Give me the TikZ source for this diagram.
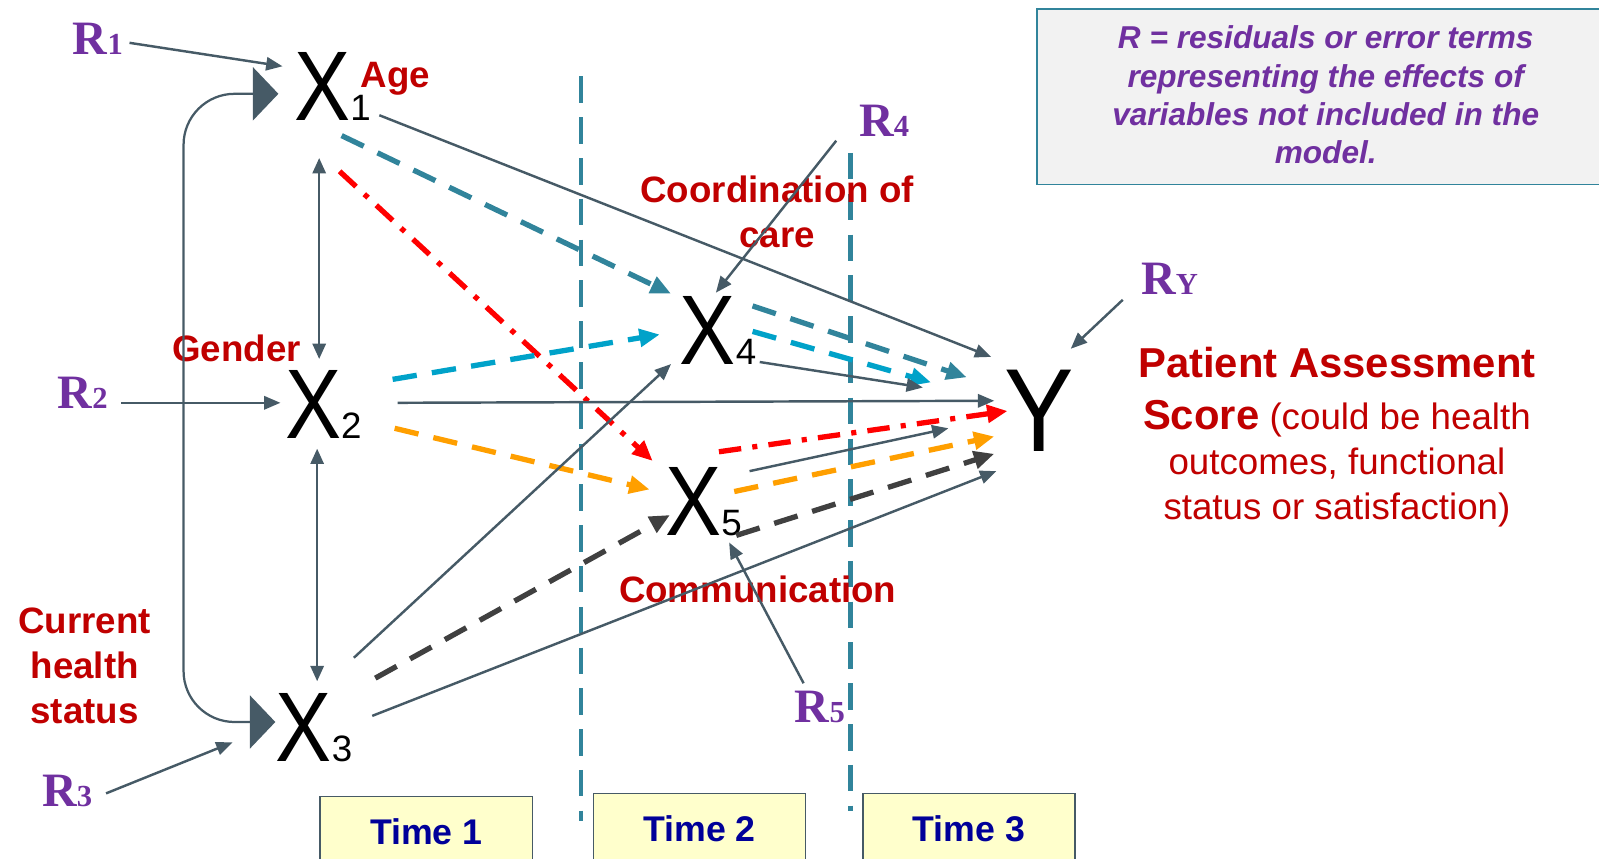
\documentclass[tikz,border=0pt]{standalone}
\usepackage{graphicx}
\usepackage{fontspec}
\setmainfont{Liberation Sans}
\newfontfamily\resfont{Liberation Serif}
\usetikzlibrary{arrows.meta}
\definecolor{linegray}{HTML}{465A66}
\definecolor{tealdash}{HTML}{31849B}
\definecolor{cyandash}{HTML}{00A2C9}
\definecolor{orangedash}{HTML}{FF9F00}
\definecolor{darkdash}{HTML}{404040}
\definecolor{respurple}{HTML}{7030A0}
\definecolor{lblred}{HTML}{C00000}
\definecolor{timeblue}{HTML}{000099}
\definecolor{timefill}{HTML}{FFFFCC}
\definecolor{notefill}{HTML}{F2F2F2}
\newcommand{\varsub}[1]{{\fontsize{36}{36}\selectfont #1}}
\newcommand{\ressub}[1]{{\fontsize{30}{30}\selectfont #1}}
\tikzset{
  var/.style={inner sep=0pt,font=\fontsize{97}{97}\selectfont},
  res/.style={inner sep=0pt,text=respurple,font=\resfont\bfseries\fontsize{47}{47}\selectfont},
  lbl/.style={inner sep=0pt,text=lblred,align=center,font=\bfseries\fontsize{36}{44}\selectfont},
  solidarr/.style={draw=linegray,line width=2.4pt,-{Triangle[length=16pt,width=13pt]}},
  corrarr/.style={draw=linegray,line width=2.2pt,{Triangle[length=15pt,width=13pt]}-{Triangle[length=15pt,width=13pt]}},
  bigarr/.style={draw=linegray,line width=2.2pt,rounded corners=50pt,{Triangle[length=25pt,width=52pt]}-{Triangle[length=25pt,width=52pt]}},
  dasharr/.style={line width=5.2pt,dash pattern=on 24pt off 15pt,-{Triangle[length=20pt,width=17pt]}},
  dotarr/.style={draw=red,line width=5.2pt,dash pattern=on 22pt off 11pt on 5pt off 11pt,-{Triangle[length=20pt,width=17pt]}},
  timeline/.style={draw=tealdash,line width=4.2pt,dash pattern=on 26pt off 14pt},
  timebox/.style={draw=linegray,line width=1.5pt,fill=timefill,minimum width=208pt,minimum height=70pt,text=timeblue,font=\bfseries\fontsize{35}{35}\selectfont},
  notebox/.style={draw=tealdash,line width=1.5pt,fill=notefill,minimum width=570pt,minimum height=172pt,anchor=north west}
}
\begin{document}
\begin{tikzpicture}[x=1pt,y=-1pt]
\useasboundingbox (0,0) rectangle (1568,842);
% time axis
\draw[timeline] (570,75) -- (570,805);
\draw[timeline] (834,150) -- (834,795);
\node[timebox] (t1) at (418,816) {Time 1};
\node[timebox] (t2) at (686,813) {Time 2};
\node[timebox] (t3) at (950,813) {Time 3};
\node[notebox] (note) at (1016,8) {};
\node[text=respurple,align=center,font=\bfseries\itshape\fontsize{31}{37.5}\selectfont] (notetxt) at (1300,93) {R = residuals or error terms\\representing the effects of\\variables not included in the\\model.};
% variables
\node[var] (x1) at (326,85) {\scalebox{0.85}[1]{X}\varsub{1}};
\node[var] (x2) at (317,397) {\scalebox{0.85}[1]{X}\varsub{2}};
\node[var] (x3) at (308,714) {\scalebox{0.85}[1]{X}\varsub{3}};
\node[var] (x4) at (704,324) {\scalebox{0.85}[1]{X}\varsub{4}};
\node[var] (x5) at (690,492) {\scalebox{0.85}[1]{X}\varsub{5}};
\node[var,font=\fontsize{116}{116}\selectfont] (y) at (1019,403) {\scalebox{0.88}[1]{Y}};
% residuals
\node[res] (r1) at (96,38) {R\ressub{1}};
\node[res] (r2) at (81,385) {R\ressub{2}};
\node[res] (r3) at (66,776) {R\ressub{3}};
\node[res] (r4) at (867,118) {R\ressub{4}};
\node[res] (r5) at (804,693) {R\ressub{5}};
\node[res] (ry) at (1147,273) {R\ressub{Y}};
% labels
\node[lbl] (age) at (388,77) {Age};
\node[lbl] (gender) at (232,342) {Gender};
\node[lbl] (health) at (83,653) {Current\\health\\status};
\node[lbl] (coord) at (762,208) {Coordination of\\care};
\node[lbl] (comm) at (743,578) {Communication};
\node[lbl,font=\fontsize{36}{44}\selectfont] (ylbl) at (1311,429) {{\bfseries\fontsize{41}{44}\selectfont Patient Assessment}\\[7pt]{\bfseries\fontsize{41}{44}\selectfont Score} (could be health\\outcomes, functional\\status or satisfaction)};
% residual arrows
\draw[solidarr] ([shift={(31,4)}]r1.center) -- ([shift={(-49,-20)}]x1.center);
\draw[solidarr] ([shift={(38,10)}]r2.center) -- ([shift={(-42,-2)}]x2.center);
\draw[solidarr] ([shift={(38,2)}]r3.center) -- ([shift={(-80,14)}]x3.center);
\draw[solidarr] ([shift={(-47,20)}]r4.center) -- ([shift={(-2,-37)}]x4.center);
\draw[solidarr] ([shift={(-16,-23)}]r5.center) -- ([shift={(25,40)}]x5.center);
\draw[solidarr] ([shift={(-46,21)}]ry.center) -- ([shift={(31,-61)}]y.center);
% correlations
\draw[corrarr] ([shift={(-13,70)}]x1.center) -- ([shift={(-4,-45)}]x2.center);
\draw[corrarr] ([shift={(-6,43)}]x2.center) -- ([shift={(3,-46)}]x3.center);
\draw[bigarr] ([shift={(-38,-6)}]x3.center) -| (180,400) |- ([shift={(-53,7)}]x1.center);
% paths from time 1
\draw[solidarr] ([shift={(46,28)}]x1.center) -- ([shift={(-47,-53)}]y.center);
\draw[dasharr,draw=tealdash] ([shift={(9,48)}]x1.center) -- ([shift={(-46,-36)}]x4.center);
\draw[dotarr] ([shift={(7,83)}]x1.center) -- ([shift={(-50,-40)}]x5.center);
\draw[dasharr,draw=cyandash] ([shift={(68,-25)}]x2.center) -- ([shift={(-57,4)}]x4.center);
\draw[solidarr] ([shift={(73,-2)}]x2.center) -- ([shift={(-44,-10)}]y.center);
\draw[dasharr,draw=orangedash] ([shift={(70,23)}]x2.center) -- ([shift={(-53,-12)}]x5.center);
\draw[solidarr] ([shift={(39,-69)}]x3.center) -- ([shift={(-46,33)}]x4.center);
\draw[dasharr,draw=darkdash] ([shift={(60,-49)}]x3.center) -- ([shift={(-33,13)}]x5.center);
\draw[solidarr] ([shift={(57,-12)}]x3.center) -- ([shift={(-42,59)}]y.center);
% paths from time 2
\draw[dasharr,draw=tealdash] ([shift={(34,-24)}]x4.center) -- ([shift={(-71,-33)}]y.center);
\draw[dasharr,draw=cyandash] ([shift={(34,1)}]x4.center) -- ([shift={(-106,-28)}]y.center);
\draw[solidarr] ([shift={(41,31)}]x4.center) -- ([shift={(-114,-23)}]y.center);
\draw[dotarr] ([shift={(15,-49)}]x5.center) -- ([shift={(-31,0)}]y.center);
\draw[solidarr] ([shift={(45,-30)}]x5.center) -- ([shift={(-89,17)}]y.center);
\draw[dasharr,draw=orangedash] ([shift={(30,-10)}]x5.center) -- ([shift={(-44,25)}]y.center);
\draw[dasharr,draw=darkdash] ([shift={(32,33)}]x5.center) -- ([shift={(-44,42)}]y.center);
\end{tikzpicture}
\end{document}
